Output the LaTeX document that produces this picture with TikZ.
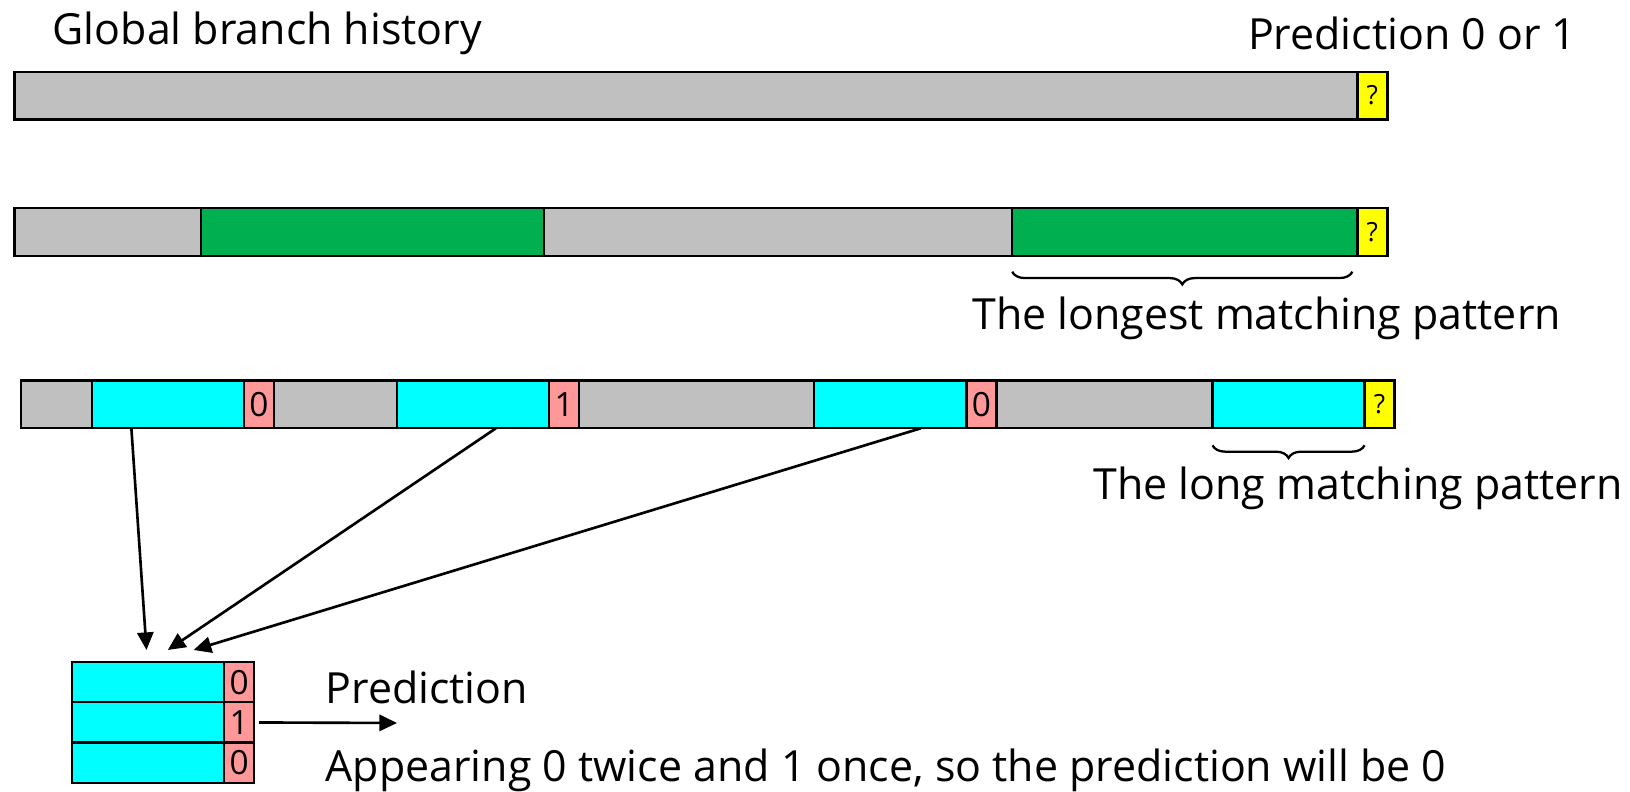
\documentclass[tikz,border=0pt]{standalone}
\usepackage{fontspec}
\setmainfont{Open Sans}
\usetikzlibrary{positioning,calc,arrows.meta,decorations.pathreplacing}

\definecolor{histgray}{HTML}{C0C0C0}
\definecolor{matchgreen}{HTML}{00B050}
\definecolor{matchcyan}{HTML}{00FFFF}
\definecolor{outpink}{HTML}{FF9999}
\definecolor{askyellow}{HTML}{FFFF00}

\tikzset{
  cell/.style={draw=black, line width=0.65pt, inner sep=0pt, outer sep=0pt,
    anchor=north west, minimum height=0.478cm, minimum width=#1},
  row/.style={cell=#1, minimum height=0.403cm},
  bit/.style={font=\fontsize{9.5}{9.5}\selectfont},
  ask/.style={font=\fontsize{7.5}{7.5}\selectfont},
  label/.style={font=\fontsize{12.2}{14}\selectfont, inner sep=0pt},
  ptr/.style={line width=0.75pt, -{Triangle[length=5pt,width=4.6pt]}},
  under/.style={decorate, decoration={brace, mirror, amplitude=3.6pt}, line width=0.65pt}
}

\begin{document}
\begin{tikzpicture}[x=0.01cm, y=-0.01cm]
    \useasboundingbox (0,0) rectangle (1630,792);

    % titles
    \node[label, anchor=west] (title) at (52,33) {Global branch history};
    \node[label, anchor=east] (goal) at (1577,33) {Prediction 0 or 1};

    % history with the outcome still unknown
    \node[cell=13.42cm, fill=histgray] (a0) at (14.6,71.7) {};
    \node[cell=0.30cm, fill=askyellow, ask, right=0pt of a0] (a1) {?};

    % longest matching pattern
    \node[cell=1.86cm, fill=histgray] (b0) at (14.6,207.9) {};
    \node[cell=3.43cm, fill=matchgreen, right=0pt of b0] (b1) {};
    \node[cell=4.68cm, fill=histgray, right=0pt of b1] (b2) {};
    \node[cell=3.45cm, fill=matchgreen, right=0pt of b2] (b3) {};
    \node[cell=0.30cm, fill=askyellow, ask, right=0pt of b3] (b4) {?};
    \draw[under] ([yshift=-0.16cm]b3.south west) -- ([xshift=-0.05cm, yshift=-0.16cm]b3.south east);
    \node[label] (longest) at (1266.6,318) {The longest matching pattern};

    % long matching pattern, each followed by its outcome
    \node[cell=0.71cm, fill=histgray] (c0) at (20.8,380.5) {};
    \node[cell=1.52cm, fill=matchcyan, right=0pt of c0] (c1) {};
    \node[cell=0.30cm, fill=outpink, bit, right=0pt of c1] (o1) {0};
    \node[cell=1.23cm, fill=histgray, right=0pt of o1] (c2) {};
    \node[cell=1.52cm, fill=matchcyan, right=0pt of c2] (c3) {};
    \node[cell=0.30cm, fill=outpink, bit, right=0pt of c3] (o2) {1};
    \node[cell=2.35cm, fill=histgray, right=0pt of o2] (c4) {};
    \node[cell=1.52cm, fill=matchcyan, right=0pt of c4] (c5) {};
    \node[cell=0.30cm, fill=outpink, bit, right=0pt of c5] (o3) {0};
    \node[cell=2.16cm, fill=histgray, right=0pt of o3] (c6) {};
    \node[cell=1.52cm, fill=matchcyan, right=0pt of c6] (c7) {};
    \node[cell=0.30cm, fill=askyellow, ask, right=0pt of c7] (c8) {?};
    \draw[under] ([yshift=-0.17cm]c7.south west) -- ([yshift=-0.17cm]c7.south east);
    \node[label] (long) at (1358,488) {The long matching pattern};

    % collected patterns and their outcomes
    \node[row=1.52cm, fill=matchcyan] (t1) at (72,662) {};
    \node[row=0.30cm, fill=outpink, bit, right=0pt of t1] (p1) {0};
    \node[row=1.52cm, fill=matchcyan, below=0pt of t1] (t2) {};
    \node[row=0.30cm, fill=outpink, bit, right=0pt of t2] (p2) {1};
    \node[row=1.52cm, fill=matchcyan, below=0pt of t2] (t3) {};
    \node[row=0.30cm, fill=outpink, bit, right=0pt of t3] (p3) {0};

    % arrows into the table
    \coordinate (in1) at ($(t1.north west)!0.49!(t1.north east)+(0,-12)$);
    \coordinate (in2) at ($(t1.north west)!0.63!(t1.north east)+(0,-12)$);
    \coordinate (in3) at ($(t1.north west)!0.80!(t1.north east)+(0,-12)$);
    \draw[ptr] ($(c1.south west)!0.26!(c1.south east)$) -- (in1);
    \draw[ptr] ($(c3.south west)!0.65!(c3.south east)$) -- (in2);
    \draw[ptr] ($(c5.south west)!0.70!(c5.south east)$) -- (in3);

    % vote
    \coordinate (vote) at (397,723);
    \draw[ptr] ([xshift=0.05cm]p2.east) -- (vote);
    \node[label, anchor=west] (pred) at (325,687) {Prediction};
    \node[label, anchor=west] (why) at (325,770) {Appearing 0 twice and 1 once, so the prediction will be 0};
\end{tikzpicture}
\end{document}
